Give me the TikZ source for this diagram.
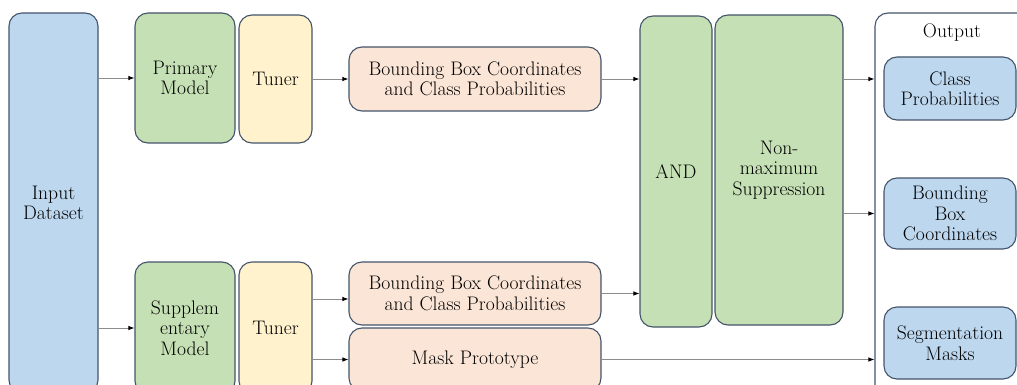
\documentclass[tikz,border=0pt]{standalone}
\usetikzlibrary{arrows.meta,calc}
\definecolor{edgeC}{HTML}{44546A}
\definecolor{blueF}{HTML}{BDD7EE}
\definecolor{greenF}{HTML}{C5E0B4}
\definecolor{yellowF}{HTML}{FFF2CC}
\definecolor{peachF}{HTML}{FBE5D6}
\definecolor{lineC}{HTML}{8C8C8C}
\tikzset{
  lbl/.style={font=\fontsize{19.6}{20.5}\selectfont},
  blk/.style={lbl, draw=edgeC, line width=1.1pt, rounded corners=13pt, align=center,
    inner sep=0pt},
  bluebox/.style={blk, fill=blueF},
  greenbox/.style={blk, fill=greenF},
  yellowbox/.style={blk, fill=yellowF},
  peachbox/.style={blk, fill=peachF},
  arr/.style={draw=lineC, line width=0.9pt, -{Latex[length=6pt,width=4.5pt,color=black]}},
}
% style, name, centre x, centre y, width, height; the node text follows
\newcommand{\blkat}[6]{%
  \node[#1, minimum width=#5pt, minimum height=#6pt] (#2) at (#3,#4)}
\begin{document}
\begin{tikzpicture}[x=1pt,y=-1pt]
\useasboundingbox (0,0) rectangle (1017,385);
\begin{scope}
\clip (0,0) rectangle (1017,385);
% output container (runs past the page edge)
\node[blk, fill=white, minimum width=170pt, minimum height=400pt] (out) at (960,213) {};
\node[lbl] (outlbl) at (952,33) {Output};

\blkat{bluebox}{input}{53.5}{203}{89}{380} {Input\\Dataset};

\blkat{greenbox}{prim}{185}{78}{100}{130} {Primary\\Model};
\blkat{yellowbox}{tun1}{275.5}{79}{73}{128} {Tuner};
\blkat{peachbox}{bb1}{475}{79}{252}{64} {Bounding Box Coordinates\\and Class Probabilities};

\blkat{greenbox}{supp}{185}{328}{100}{132} {Supplem\\entary\\Model};
\blkat{yellowbox}{tun2}{275.5}{328}{73}{132} {Tuner};
\blkat{peachbox}{bb2}{475}{293.5}{252}{63} {Bounding Box Coordinates\\and Class Probabilities};
\blkat{peachbox}{mask}{475}{359.5}{252}{63} {Mask Prototype};

\blkat{greenbox}{and}{676}{171.5}{72}{311} {AND};
\blkat{greenbox}{nms}{779}{170}{128}{310} {Non-\\maximum\\Suppression};

\blkat{bluebox}{cp}{950}{88.5}{132}{63} {Class\\Probabilities};
\blkat{bluebox}{bbc}{950}{213.5}{132}{71} {Bounding\\Box\\Coordinates};
\blkat{bluebox}{seg}{950}{343}{132}{72} {Segmentation\\Masks};

% connectors
\draw[arr] (input.east |- prim.west) -- (prim.west);
\draw[arr] (input.east |- supp.west) -- (supp.west);
\draw[arr] (tun1.east) -- (tun1.east -| bb1.west);
\draw[arr] (bb1.east) -- (bb1.east -| and.west);
\draw[arr] ([yshift=-5.5pt]tun2.east |- bb2.west) -- ([yshift=-5.5pt]bb2.west);
\draw[arr] (tun2.east |- mask.west) -- (mask.west);
\draw[arr] (bb2.east) -- (bb2.east -| and.west);
\draw[arr] (nms.east |- bb1.east) -- (out.west |- bb1.east);
\draw[arr] (nms.east |- bbc.west) -- (out.west |- bbc.west);
\draw[arr] (mask.east) -- (mask.east -| out.west);
\end{scope}
\end{tikzpicture}
\end{document}
